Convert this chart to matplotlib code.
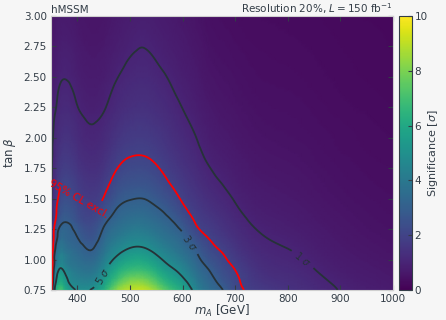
import numpy as np
import matplotlib.pyplot as plt
import matplotlib.tri as mtri

# scan grid
m_a = [350, 360, 375, 400, 425, 450, 475, 500, 525, 550, 575,
       600, 625, 650, 675, 700, 750, 800, 850, 900, 950, 1000]
tan_beta = [0.75, 0.8, 0.9, 1.0, 1.1, 1.2, 1.3, 1.4, 1.5, 1.6,
            1.7, 1.8, 1.9, 2.0, 2.2, 2.4, 2.6, 2.8, 3.0]

# expected significance, one row per tan(beta), one column per m_A
significance = [
    [0.95, 6.01, 6.41, 4.95, 5.02, 6.25, 8.28, 9.00, 9.10, 8.35, 7.05, 6.08, 4.60, 3.60, 3.05, 2.30, 1.70, 1.45, 1.22, 0.98, 0.85, 0.74],
    [0.95, 5.41, 5.87, 4.61, 4.58, 5.71, 7.47, 8.41, 8.45, 7.55, 6.42, 5.54, 4.26, 3.40, 2.82, 2.20, 1.58, 1.36, 1.15, 0.94, 0.80, 0.70],
    [0.94, 4.47, 5.00, 4.06, 3.88, 4.85, 6.20, 6.92, 6.96, 6.27, 5.41, 4.69, 3.72, 3.06, 2.44, 2.03, 1.39, 1.21, 1.03, 0.83, 0.72, 0.63],
    [0.93, 3.77, 4.33, 3.62, 3.34, 4.18, 5.24, 5.81, 5.85, 5.32, 4.64, 4.03, 3.28, 2.61, 2.15, 1.77, 1.24, 1.09, 0.92, 0.75, 0.65, 0.57],
    [0.92, 3.23, 3.80, 3.27, 2.91, 3.66, 4.50, 4.96, 5.00, 4.58, 4.04, 3.52, 2.88, 2.22, 1.88, 1.54, 1.11, 0.99, 0.83, 0.68, 0.59, 0.52],
    [0.92, 2.73, 3.38, 2.96, 2.52, 3.25, 3.92, 4.30, 4.33, 3.99, 3.56, 3.11, 2.36, 1.92, 1.63, 1.35, 1.01, 0.89, 0.76, 0.63, 0.54, 0.48],
    [0.91, 2.28, 3.03, 2.59, 2.21, 2.84, 3.45, 3.76, 3.80, 3.52, 3.17, 2.63, 1.98, 1.68, 1.43, 1.20, 0.91, 0.81, 0.69, 0.58, 0.50, 0.45],
    [0.91, 1.96, 2.68, 2.29, 1.95, 2.39, 3.07, 3.33, 3.36, 3.14, 2.77, 2.21, 1.76, 1.48, 1.27, 1.07, 0.83, 0.74, 0.64, 0.54, 0.47, 0.42],
    [0.90, 1.78, 2.38, 2.04, 1.74, 2.03, 2.69, 2.96, 3.00, 2.77, 2.39, 1.91, 1.58, 1.32, 1.13, 0.97, 0.76, 0.68, 0.59, 0.50, 0.44, 0.40],
    [0.90, 1.63, 2.13, 1.83, 1.56, 1.80, 2.36, 2.62, 2.65, 2.45, 2.08, 1.72, 1.43, 1.18, 1.02, 0.88, 0.70, 0.63, 0.55, 0.47, 0.41, 0.37],
    [0.89, 1.50, 1.92, 1.66, 1.41, 1.61, 2.10, 2.33, 2.36, 2.18, 1.86, 1.56, 1.30, 1.07, 0.93, 0.81, 0.64, 0.59, 0.52, 0.44, 0.39, 0.36],
    [0.89, 1.39, 1.74, 1.50, 1.28, 1.45, 1.87, 2.09, 2.11, 1.96, 1.69, 1.42, 1.19, 0.97, 0.85, 0.75, 0.60, 0.55, 0.48, 0.42, 0.37, 0.34],
    [0.88, 1.29, 1.59, 1.37, 1.17, 1.32, 1.68, 1.88, 1.91, 1.78, 1.54, 1.31, 1.09, 0.89, 0.78, 0.69, 0.56, 0.51, 0.46, 0.39, 0.35, 0.32],
    [0.86, 1.20, 1.45, 1.26, 1.08, 1.20, 1.52, 1.71, 1.74, 1.63, 1.42, 1.20, 1.01, 0.82, 0.72, 0.64, 0.52, 0.48, 0.43, 0.38, 0.34, 0.31],
    [0.80, 1.05, 1.24, 1.07, 0.92, 1.01, 1.26, 1.42, 1.47, 1.37, 1.21, 1.03, 0.87, 0.71, 0.62, 0.56, 0.46, 0.43, 0.39, 0.34, 0.31, 0.28],
    [0.72, 0.93, 1.07, 0.92, 0.79, 0.86, 1.07, 1.21, 1.26, 1.18, 1.04, 0.90, 0.76, 0.61, 0.54, 0.49, 0.41, 0.39, 0.35, 0.31, 0.28, 0.26],
    [0.64, 0.82, 0.93, 0.81, 0.69, 0.75, 0.91, 1.04, 1.09, 1.02, 0.91, 0.79, 0.67, 0.54, 0.48, 0.44, 0.37, 0.35, 0.32, 0.29, 0.26, 0.24],
    [0.58, 0.73, 0.82, 0.71, 0.61, 0.65, 0.79, 0.90, 0.96, 0.89, 0.80, 0.70, 0.60, 0.48, 0.43, 0.39, 0.34, 0.32, 0.30, 0.27, 0.25, 0.23],
    [0.52, 0.66, 0.73, 0.63, 0.55, 0.58, 0.70, 0.79, 0.84, 0.79, 0.71, 0.63, 0.54, 0.43, 0.38, 0.36, 0.31, 0.30, 0.28, 0.25, 0.23, 0.22],
]

sigma_levels = [1, 3, 5]
sigma_labels = {1: r'1 $\sigma$', 3: r'3 $\sigma$', 5: r'5 $\sigma$'}
excl_level = 2

text_col = '#333d47'
plt.rcParams.update({
    'text.color': text_col,
    'axes.labelcolor': text_col,
    'xtick.color': text_col,
    'ytick.color': text_col,
    'axes.edgecolor': '#cfcfcf',
})

Z = np.array(significance)

# smooth the scan on a refined triangulation (mass axis rescaled so that
# both directions have a similar weight in the cubic fit)
mscale = 230.0
mm, tt = np.meshgrid(m_a, tan_beta)
tri = mtri.Triangulation(mm.ravel() / mscale, tt.ravel())
refiner = mtri.UniformTriRefiner(tri)
tri_fine, z_fine = refiner.refine_field(Z.ravel(), subdiv=3)
tri_plot = mtri.Triangulation(tri_fine.x * mscale, tri_fine.y,
                              tri_fine.triangles)

fig = plt.figure(figsize=(4.46, 3.2), dpi=100, facecolor='#f6f6f6')
ax = fig.add_axes([0.1143, 0.0938, 0.7668, 0.8563])
cax = fig.add_axes([0.8946, 0.0938, 0.0291, 0.8563])

mesh = ax.tripcolor(tri_plot, z_fine, shading='gouraud', cmap='viridis',
                    vmin=0, vmax=10)

cs = ax.tricontour(tri_plot, z_fine, levels=sigma_levels, colors='#263238',
                   linewidths=1.3)
ax.clabel(cs, fmt=sigma_labels, fontsize=7,
          manual=[(828, 1.0), (614, 1.14), (445, 0.87)])

excl = ax.tricontour(tri_plot, z_fine, levels=[excl_level], colors='red',
                     linewidths=1.3)
ax.clabel(excl, fmt={excl_level: '95% CL excl.'}, fontsize=7.5,
          manual=[(405, 1.5)])

ax.set_xlim(350, 1000)
ax.set_ylim(0.75, 3.0)
ax.set_xticks([400, 500, 600, 700, 800, 900, 1000])
ax.set_yticks(np.arange(0.75, 3.01, 0.25))
ax.yaxis.set_major_formatter('{x:.2f}')
ax.tick_params(direction='in', top=True, right=True, length=3.5,
               labelsize=7.5, pad=3)
ax.set_xlabel(r'$m_A$ [GeV]', fontsize=8.5, labelpad=-1)
ax.set_ylabel(r'$\tan\beta$', fontsize=8.5, labelpad=4)
ax.set_title('hMSSM', loc='left', fontsize=7.5, pad=2)
ax.set_title(r'Resolution 20%, $L = 150$ fb$^{-1}$', loc='right',
             fontsize=7.5, pad=2)

cb = fig.colorbar(mesh, cax=cax)
cb.set_ticks([0, 2, 4, 6, 8, 10])
cb.ax.tick_params(direction='in', length=3, labelsize=7.5, pad=2)
cb.outline.set_edgecolor('#333d47')
cb.set_label(r'Significance [$\sigma$]', fontsize=8, labelpad=-1)

fig.savefig('out.png', dpi=100, facecolor=fig.get_facecolor())
